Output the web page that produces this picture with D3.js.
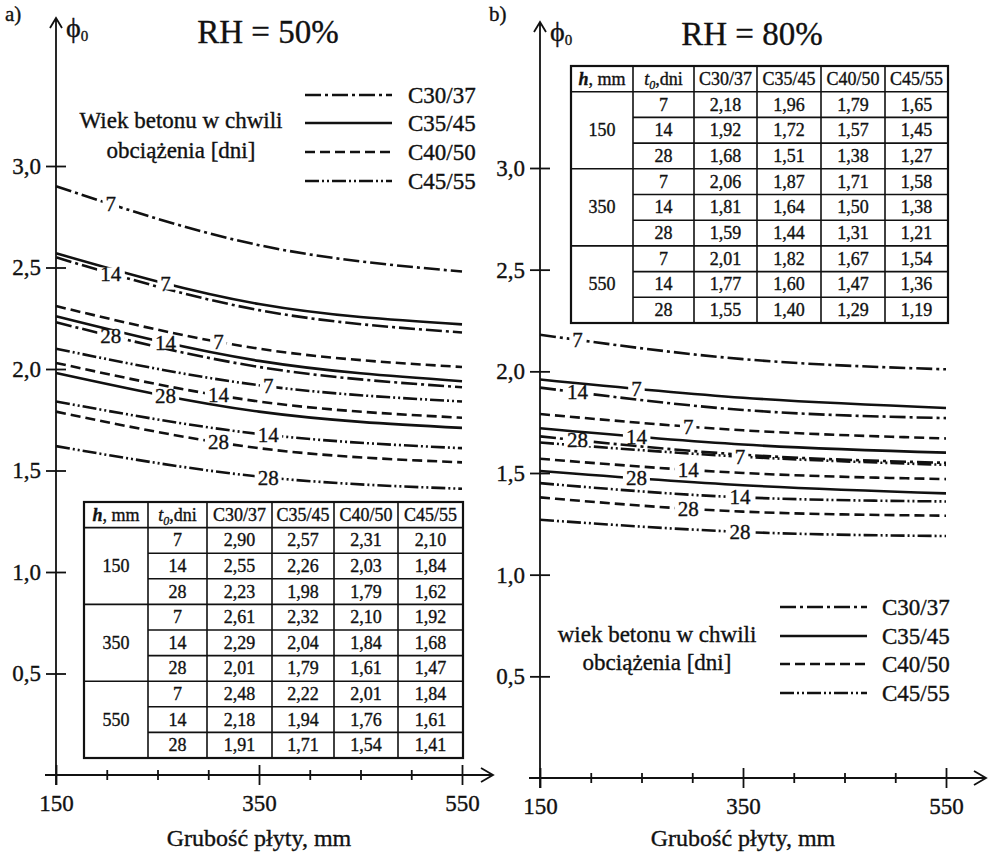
<!DOCTYPE html>
<html>
  <head>
    <meta charset='utf-8' />
    <title>Creep coefficient</title>
    <style>
      body { margin: 0; background: #fff; }
      svg { display: block; }
      text { font-family: "Liberation Serif", "DejaVu Serif", serif; fill: #111; stroke: #111; stroke-width: 0.35px; }
      .axis text { font-size: 23px; }
      .axis line, .axis path { stroke: #111; stroke-width: 1.8; }
      .curve { fill: none; stroke: #111; stroke-width: 2.6; }
      .tbl line { stroke: #111; stroke-width: 1.6; }
      .tbl text { font-size: 18px; }
    </style>
  </head>
<body>
  <svg id="chart" width="988" height="856"></svg>

  <script src="https://d3js.org/d3.v7.min.js"></script>
  <script>
    const hValues = [150, 350, 550];
    const ages = [7, 14, 28];
    const classes = ["C30/37", "C35/45", "C40/50", "C45/55"];
    const yTicks = [0.5, 1.0, 1.5, 2.0, 2.5, 3.0];
    const xMajorTicks = [150, 350, 550];
    const xMinorTicks = [200, 250, 300, 400, 450, 500];

    // RH = 50%, rows t0 = 7, 14, 28 ; columns = classes
    const rh50_h150 = [[2.90, 2.57, 2.31, 2.10], [2.55, 2.26, 2.03, 1.84], [2.23, 1.98, 1.79, 1.62]];
    const rh50_h350 = [[2.61, 2.32, 2.10, 1.92], [2.29, 2.04, 1.84, 1.68], [2.01, 1.79, 1.61, 1.47]];
    const rh50_h550 = [[2.48, 2.22, 2.01, 1.84], [2.18, 1.94, 1.76, 1.61], [1.91, 1.71, 1.54, 1.41]];
    // RH = 80%
    const rh80_h150 = [[2.18, 1.96, 1.79, 1.65], [1.92, 1.72, 1.57, 1.45], [1.68, 1.51, 1.38, 1.27]];
    const rh80_h350 = [[2.06, 1.87, 1.71, 1.58], [1.81, 1.64, 1.50, 1.38], [1.59, 1.44, 1.31, 1.21]];
    const rh80_h550 = [[2.01, 1.82, 1.67, 1.54], [1.77, 1.60, 1.47, 1.36], [1.55, 1.40, 1.29, 1.19]];

    // line style per class
    const dashes = ["16 4 3 4", null, "10 5", "14 3 2 3 2 3"];

    const locale = d3.formatLocale({decimal: ",", thousands: " ", grouping: [3], currency: ["", ""]});
    const fmt = locale.format(".2f");
    const fmt1 = locale.format(".1f");

    const panels = [
      {
        letter: "a)", title: "RH = 50%", data: [rh50_h150, rh50_h350, rh50_h550],
        xl: 56, xr: 462, yb: 775, yt: 166, arrowTop: 18, axisL: 45, axisR: 493, titleX: 268, titleY: 43,
        labelH: [204, 258, 310, 359],
        table: {x: [84, 148, 207, 272, 334, 398, 463], top: 502, rowH: 25.6},
        legend: {x1: 305, x2: 392, tx: 408, ys: [95, 123, 152, 181], textX: 181, textYs: [128, 158],
                 lines: ["Wiek betonu w chwili", "obciążenia [dni]"]}
      },
      {
        letter: "b)", title: "RH = 80%", data: [rh80_h150, rh80_h350, rh80_h550],
        xl: 540, xr: 946, yb: 778, yt: 168, arrowTop: 22, axisL: 529, axisR: 986, titleX: 752, titleY: 45,
        labelH: [187, 245, 296, 347],
        table: {x: [571, 633, 694, 757, 821, 885, 948], top: 66, rowH: 25.7},
        legend: {x1: 780, x2: 867, tx: 882, ys: [607, 636, 664, 693], textX: 657, textYs: [642, 670],
                 lines: ["wiek betonu w chwili", "obciążenia [dni]"]}
      }
    ];

    const svg = d3.select("#chart");

    function pointAtX(node, xt) {
      let lo = 0, hi = node.getTotalLength(), p;
      for (let i = 0; i < 30; i++) {
        const mid = (lo + hi) / 2;
        p = node.getPointAtLength(mid);
        if (p.x < xt) lo = mid; else hi = mid;
      }
      return p;
    }

    panels.forEach(function(P) {
      const g = svg.append("g");
      const x = d3.scaleLinear().domain([150, 550]).range([P.xl, P.xr]);
      const y = d3.scaleLinear().domain([0, 3]).range([P.yb, P.yt]);

      // ---- table ----
      const T = P.table;
      const tg = g.append("g").attr("class", "tbl");
      const nRows = 1 + hValues.length * ages.length;
      const bottom = T.top + nRows * T.rowH;
      const x0 = T.x[0], xEnd = T.x[T.x.length - 1];
      tg.append("rect").attr("x", x0).attr("y", T.top).attr("width", xEnd - x0).attr("height", bottom - T.top)
        .attr("fill", "#fff").attr("stroke", "#111").attr("stroke-width", 2.2);
      T.x.slice(1, -1).forEach(function(cx) {
        tg.append("line").attr("x1", cx).attr("x2", cx).attr("y1", T.top).attr("y2", bottom);
      });
      for (let r = 1; r < nRows; r++) {
        const ry = T.top + r * T.rowH;
        const isGroup = (r - 1) % ages.length === 0;
        tg.append("line").attr("x1", isGroup ? x0 : T.x[1]).attr("x2", xEnd).attr("y1", ry).attr("y2", ry);
      }
      const cellX = i => (T.x[i] + T.x[i + 1]) / 2;
      const base = r => T.top + r * T.rowH + T.rowH / 2 + 6;
      // header
      const h1 = tg.append("text").attr("x", cellX(0)).attr("y", base(0)).attr("text-anchor", "middle");
      h1.append("tspan").attr("font-weight", "bold").attr("font-style", "italic").text("h");
      h1.append("tspan").text(", mm");
      const h2 = tg.append("text").attr("x", cellX(1)).attr("y", base(0)).attr("text-anchor", "middle");
      h2.append("tspan").attr("font-style", "italic").text("t");
      h2.append("tspan").attr("font-style", "italic").attr("font-size", "12px").attr("dy", 4).text("0");
      h2.append("tspan").attr("dy", -4).text(",dni");
      classes.forEach(function(c, ci) {
        tg.append("text").attr("x", cellX(ci + 2)).attr("y", base(0)).attr("text-anchor", "middle").text(c);
      });
      hValues.forEach(function(h, hi) {
        tg.append("text").attr("x", cellX(0)).attr("y", base(1 + hi * 3 + 1)).attr("text-anchor", "middle").text(h);
        ages.forEach(function(a, ai) {
          const r = 1 + hi * 3 + ai;
          tg.append("text").attr("x", cellX(1)).attr("y", base(r)).attr("text-anchor", "middle").text(a);
          P.data[hi][ai].forEach(function(v, ci) {
            tg.append("text").attr("x", cellX(ci + 2)).attr("y", base(r)).attr("text-anchor", "middle").text(fmt(v));
          });
        });
      });

      // ---- curves ----
      const line = d3.line().x(d => x(d[0])).y(d => y(d[1])).curve(d3.curveMonotoneX);
      const cg = g.append("g");
      const lg = g.append("g");
      classes.forEach(function(c, ci) {
        ages.forEach(function(a, ai) {
          const pts = hValues.map((h, hi) => [h, P.data[hi][ai][ci]]);
          const path = cg.append("path").attr("class", "curve").attr("d", line(pts))
            .attr("stroke-dasharray", dashes[ci]);
          const p = pointAtX(path.node(), x(P.labelH[ci]));
          const lab = lg.append("g");
          const t = lab.append("text").attr("x", p.x).attr("y", p.y + 7).attr("text-anchor", "middle")
            .attr("font-size", "21px").text(a);
          const bb = t.node().getBBox();
          lab.insert("rect", "text").attr("x", bb.x - 3).attr("y", p.y - 6).attr("width", bb.width + 6)
            .attr("height", 12).attr("fill", "#fff");
        });
      });

      // ---- legend ----
      const L = P.legend;
      classes.forEach(function(c, ci) {
        g.append("line").attr("x1", L.x1).attr("x2", L.x2).attr("y1", L.ys[ci]).attr("y2", L.ys[ci])
          .attr("stroke", "#111").attr("stroke-width", 2.6).attr("stroke-dasharray", dashes[ci]);
        g.append("text").attr("x", L.tx).attr("y", L.ys[ci] + 8).attr("font-size", "23px").text(c);
      });
      L.lines.forEach(function(s, i) {
        g.append("text").attr("x", L.textX).attr("y", L.textYs[i]).attr("text-anchor", "middle")
          .attr("font-size", "23px").text(s);
      });

      // ---- axes ----
      const yAxis = d3.axisLeft(y).tickValues(yTicks).tickSize(10).tickPadding(5).tickFormat(fmt1);
      g.append("g").attr("class", "axis").attr("transform", "translate(" + P.xl + ",0)").call(yAxis)
        .call(a => a.select(".domain").remove())
        .call(a => a.selectAll(".tick line").attr("x1", -10).attr("x2", 10));

      const xAxis = d3.axisBottom(x).tickValues(xMajorTicks).tickSize(10).tickPadding(10);
      g.append("g").attr("class", "axis").attr("transform", "translate(0," + P.yb + ")").call(xAxis)
        .call(a => a.select(".domain").remove())
        .call(a => a.selectAll(".tick line").attr("y1", -10).attr("y2", 10));
      const xMinor = d3.axisBottom(x).tickValues(xMinorTicks).tickSize(5).tickFormat("");
      g.append("g").attr("class", "axis").attr("transform", "translate(0," + P.yb + ")").call(xMinor)
        .call(a => a.select(".domain").remove())
        .call(a => a.selectAll(".tick line").attr("y1", -5).attr("y2", 5));

      // axis lines with open arrow heads
      g.append("path").attr("fill", "none").attr("stroke", "#111").attr("stroke-width", 1.8)
        .attr("d", "M" + P.xl + "," + (P.yb + 10) + "V" + P.arrowTop
              + "M" + (P.xl - 6) + "," + (P.arrowTop + 10) + "L" + P.xl + "," + P.arrowTop + "L" + (P.xl + 6) + "," + (P.arrowTop + 10)
              + "M" + P.axisL + "," + P.yb + "H" + P.axisR
              + "M" + (P.axisR - 12) + "," + (P.yb - 7) + "L" + P.axisR + "," + P.yb + "L" + (P.axisR - 12) + "," + (P.yb + 7));

      // phi0 label
      const phi = g.append("text").attr("x", P.xl + 10).attr("y", P.arrowTop + 19).attr("font-size", "28px");
      phi.append("tspan").text("ϕ");
      phi.append("tspan").attr("font-size", "15px").attr("dy", 4).text("0");

      // title, panel letter, axis title
      g.append("text").attr("x", P.titleX).attr("y", P.titleY).attr("text-anchor", "middle")
        .attr("font-size", "33px").text(P.title);
      g.append("text").attr("x", P.xl - 51).attr("y", 21).attr("font-size", "21px").text(P.letter);
      g.append("text").attr("x", (P.xl + P.xr) / 2).attr("y", 846).attr("text-anchor", "middle")
        .attr("font-size", "24px").text("Grubość płyty, mm");
    });
  </script>
</body>
</html>
